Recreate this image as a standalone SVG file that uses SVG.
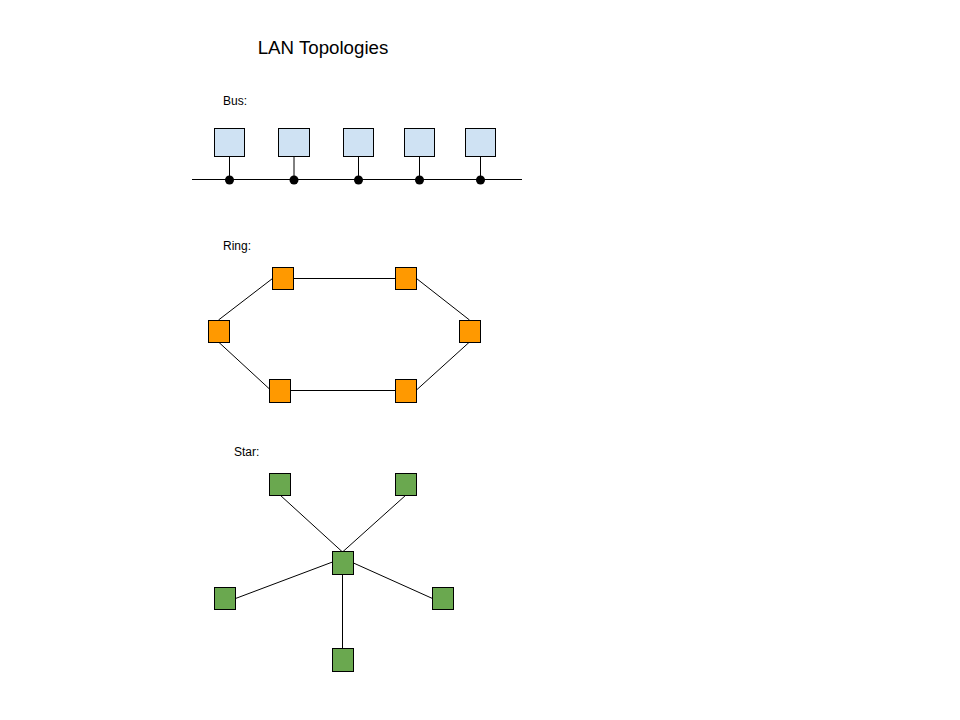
<svg xmlns="http://www.w3.org/2000/svg" width="960" height="720" viewBox="0 0 960 720">
<style>
text{font-family:"Liberation Sans",Arial,sans-serif;fill:#000}
.t{font-size:18.7px}
.l{font-size:12px}
.bus{fill:#cfe2f3;stroke:#000;stroke-width:1}
.ring{fill:#ff9900;stroke:#000;stroke-width:1}
.star{fill:#6aa84f;stroke:#000;stroke-width:1}
.c{stroke:#000;stroke-width:1;fill:none}
.d{fill:#000}
</style>
<rect width="960" height="720" fill="#fff"/>
<text class="t" x="323" y="54" text-anchor="middle">LAN Topologies</text>
<text class="l" x="223" y="105">Bus:</text>
<text class="l" x="223" y="250">Ring:</text>
<text class="l" x="234" y="456">Star:</text>
<g id="connectors">
<line class="c" x1="192" y1="179.5" x2="522" y2="179.5"/>
<line class="c" x1="229.5" y1="156.5" x2="229.5" y2="179.5"/>
<line class="c" x1="294" y1="156.5" x2="294" y2="179.5"/>
<line class="c" x1="358.5" y1="156.5" x2="358.5" y2="179.5"/>
<line class="c" x1="419.5" y1="156.5" x2="419.5" y2="179.5"/>
<line class="c" x1="480.5" y1="156.5" x2="480.5" y2="179.5"/>
<circle class="d" cx="229.5" cy="180" r="4.5"/>
<circle class="d" cx="294" cy="180" r="4.5"/>
<circle class="d" cx="358.5" cy="180" r="4.5"/>
<circle class="d" cx="419.5" cy="180" r="4.5"/>
<circle class="d" cx="480.5" cy="180" r="4.5"/>
<line class="c" x1="293.5" y1="278.5" x2="395.5" y2="278.5"/>
<line class="c" x1="218.5" y1="320" x2="272.5" y2="278.5"/>
<line class="c" x1="416.5" y1="278.5" x2="469.5" y2="320"/>
<line class="c" x1="218.5" y1="342" x2="269.5" y2="389"/>
<line class="c" x1="290.5" y1="390.5" x2="395.5" y2="390.5"/>
<line class="c" x1="416.5" y1="390" x2="469.5" y2="342"/>
<line class="c" x1="280" y1="495" x2="342.5" y2="552"/>
<line class="c" x1="406" y1="495" x2="342.5" y2="552"/>
<line class="c" x1="332.5" y1="562" x2="235.5" y2="598.5"/>
<line class="c" x1="353.5" y1="563" x2="432.5" y2="598.5"/>
<line class="c" x1="342.5" y1="574" x2="342.5" y2="648.5"/>
</g>
<g id="bus1"><rect class="bus" x="214.5" y="128.5" width="30" height="28"/></g>
<g id="bus2"><rect class="bus" x="278.5" y="128.5" width="31" height="28"/></g>
<g id="bus3"><rect class="bus" x="343.5" y="128.5" width="30" height="28"/></g>
<g id="bus4"><rect class="bus" x="404.5" y="128.5" width="30" height="28"/></g>
<g id="bus5"><rect class="bus" x="465.5" y="128.5" width="30" height="28"/></g>
<g id="ring-tl"><rect class="ring" x="272.5" y="267.5" width="21" height="22"/></g>
<g id="ring-tr"><rect class="ring" x="395.5" y="267.5" width="21" height="22"/></g>
<g id="ring-l"><rect class="ring" x="208.5" y="320.5" width="21" height="22"/></g>
<g id="ring-r"><rect class="ring" x="459.5" y="320.5" width="21" height="22"/></g>
<g id="ring-bl"><rect class="ring" x="269.5" y="379.5" width="21" height="23"/></g>
<g id="ring-br"><rect class="ring" x="395.5" y="379.5" width="21" height="23"/></g>
<g id="star-tl"><rect class="star" x="269.5" y="473.5" width="21" height="22"/></g>
<g id="star-tr"><rect class="star" x="395.5" y="473.5" width="21" height="22"/></g>
<g id="star-c"><rect class="star" x="332.5" y="551.5" width="21" height="23"/></g>
<g id="star-l"><rect class="star" x="214.5" y="587.5" width="21" height="22"/></g>
<g id="star-r"><rect class="star" x="432.5" y="587.5" width="21" height="22"/></g>
<g id="star-b"><rect class="star" x="332.5" y="648.5" width="21" height="23"/></g>
</svg>
